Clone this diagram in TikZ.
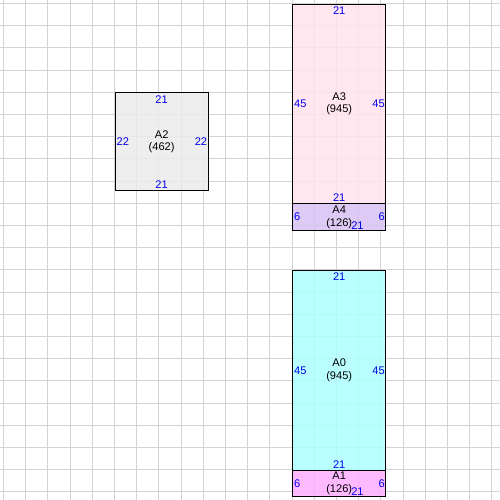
\documentclass[tikz,border=0pt]{standalone}
\usepackage{fontspec}
\setmainfont{Liberation Sans}
\usetikzlibrary{calc}
\definecolor{gridgray}{HTML}{D3D3D3}
\definecolor{fillgray}{HTML}{EBEBEB}
\definecolor{fillpink}{HTML}{FFE2EC}
\definecolor{fillviolet}{HTML}{D8C2F3}
\definecolor{fillcyan}{HTML}{AEFFFF}
\definecolor{fillmagenta}{HTML}{FFAEFF}
\definecolor{dimblue}{HTML}{0000F0}

\begin{document}
\begin{tikzpicture} [x=0.1cm,y=-0.1cm,
  font=\fontsize{7.1}{8}\selectfont,
  gridline/.style={draw=gridgray, line width=0.65pt},
  block/.style={draw=black, line width=0.65pt, fill opacity=0.85, text opacity=1, inner sep=0pt, anchor=north west, minimum width=2.1cm},
  dim/.style={text=dimblue, inner sep=0pt},
  dimw/.style={dim, anchor=west},
  dime/.style={dim, anchor=east},
  blockname/.style={align=center, inner sep=0pt}]

\useasboundingbox (-0.79,-0.79) rectangle (111.82,111.82);

% grid
\foreach \k in {0,5,...,110} {
  \draw[gridline] (\k,-1) -- (\k,113);
  \draw[gridline] (-1,\k) -- (113,\k);
}

% blocks
\node[block, fill=fillgray, minimum height=2.2cm] (A2) at (25,20) {};
\node[block, fill=fillpink, minimum height=4.5cm] (A3) at (65,0) {};
\node[block, fill=fillviolet, minimum height=0.6cm] (A4) at (65,45) {};
\node[block, fill=fillcyan, minimum height=4.5cm] (A0) at (65,60) {};
\node[block, fill=fillmagenta, minimum height=0.6cm] (A1) at (65,105) {};

% names
\node[blockname] (A2n) at (A2.center) {A2\\(462)};
\node[blockname] (A3n) at (A3.center) {A3\\(945)};
\node[blockname] (A4n) at (A4.center) {A4\\(126)};
\node[blockname] (A0n) at (A0.center) {A0\\(945)};
\node[blockname] (A1n) at (A1.center) {A1\\(126)};

% sizes
\node[dim] (A2top) at ($(A2.north)+(0,1.6)$) {21};
\node[dim] (A2bot) at ($(A2.south)+(0,-1.4)$) {21};
\node[dimw] (A2lft) at ($(A2.west)+(0.4,0)$) {22};
\node[dime] (A2rgt) at ($(A2.east)+(-0.3,0)$) {22};

\node[dim] (A3top) at ($(A3.north)+(0,1.5)$) {21};
\node[dim] (A3bot) at ($(A3.south)+(0,-1.4)$) {21};
\node[dimw] (A3lft) at ($(A3.west)+(0.4,0)$) {45};
\node[dime] (A3rgt) at ($(A3.east)+(-0.3,0)$) {45};

\node[dim] (A4bot) at ($(A4.south)+(4.1,-1.3)$) {21};
\node[dimw] (A4lft) at ($(A4.west)+(0.4,0)$) {6};
\node[dime] (A4rgt) at ($(A4.east)+(-0.3,0)$) {6};

\node[dim] (A0top) at ($(A0.north)+(0,1.6)$) {21};
\node[dim] (A0bot) at ($(A0.south)+(0,-1.3)$) {21};
\node[dimw] (A0lft) at ($(A0.west)+(0.4,0)$) {45};
\node[dime] (A0rgt) at ($(A0.east)+(-0.3,0)$) {45};

\node[dim] (A1bot) at ($(A1.south)+(4.1,-1.3)$) {21};
\node[dimw] (A1lft) at ($(A1.west)+(0.4,0)$) {6};
\node[dime] (A1rgt) at ($(A1.east)+(-0.3,0)$) {6};

\end{tikzpicture}
\end{document}
